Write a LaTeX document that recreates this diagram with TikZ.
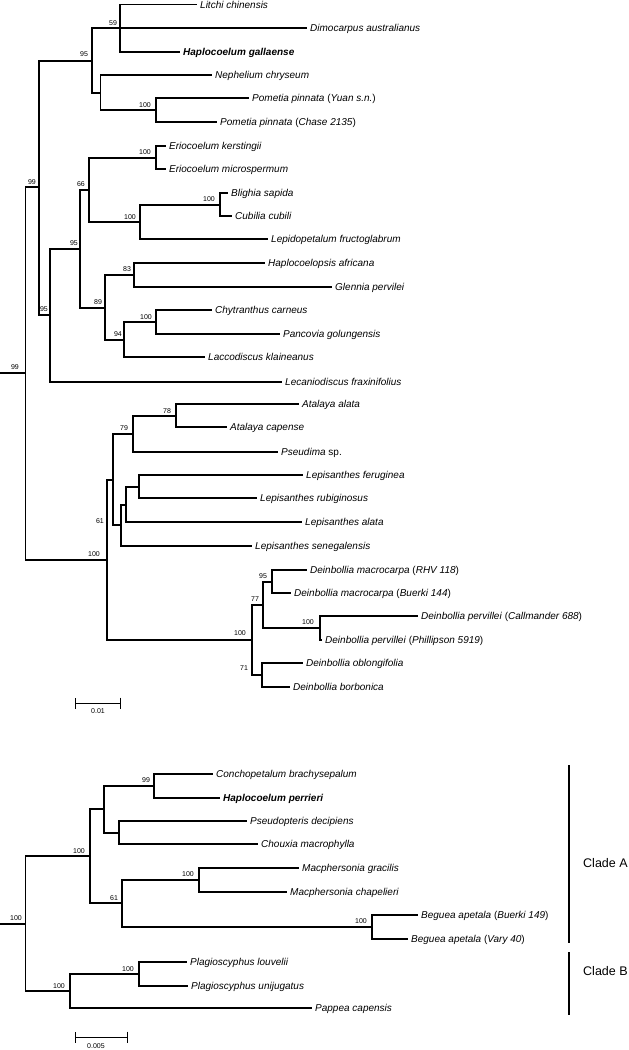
\documentclass[tikz,border=0pt]{standalone}
\usepackage{fontspec}
\setmainfont{Liberation Sans}
\usetikzlibrary{arrows.meta}
\begin{document}
\begin{tikzpicture}
  [x=1pt,y=-1pt,
  branch/.style={line width=1.4pt},
  taxon/.style={anchor=base west,xshift=3pt,yshift=-3.6pt,inner sep=0pt,font=\fontsize{10}{12}\selectfont},
  boot/.style={inner sep=0pt,font=\fontsize{7}{8}\selectfont},
  scalebar/.style={line width=0.9pt,{Bar[width=11pt]}-{Bar[width=11pt]}},
  cladebar/.style={line width=1.4pt},
  cladename/.style={anchor=west,inner sep=0pt,font=\fontsize{12.5}{15}\selectfont}]
  \useasboundingbox (0,0) rectangle (629,1050);

  %% internal nodes, upper tree
  \foreach \nodename/\x/\y in {r0/25.7/373, n99/39/187, n95a/92/61, n59/120/28,
    nx1/100.7/93, n100p/156/110, n95b/50/315, n95c/80/249, n66/89/190,
    n100e/156/158, n100l/140/222, n100b/220/205, n89/105/308, n83/134/275,
    n94/124/340, n100c/156/322, n100L/107/560, nx2/113/480, n79/133/434,
    n78/176/416, nx3/121/525, nx4/126/505, nx5/139/487, n100d/252/640,
    n77/263/605, n95d/272/582, n100v/320/628, n71/262/675}
  {
    \coordinate (\nodename) at (\x,\y);
  }
  %% internal nodes, lower tree
  \foreach \nodename/\x/\y in {br0/25.7/924, b100a/90/856, bnc/104/809,
    b99/154/786, bnd/119/833, b61/122/903, b100m/199/880, b100be/372/927,
    b100g/70/991, b100pl/139/974}
  {
    \coordinate (\nodename) at (\x,\y);
  }
  \coordinate (stemA) at (0,373);
  \coordinate (stemB) at (0,924);

  %% tips and taxon names
  \foreach \nodename/\x/\y/\name in {
    lit/197/4.5/{\textit{Litchi chinensis}},
    dim/307/28/{\textit{Dimocarpus australianus}},
    hga/180/52/{\textbf{\textit{Haplocoelum gallaense}}},
    nep/212/75/{\textit{Nephelium chryseum}},
    pya/249/98/{\textit{Pometia pinnata} (\textit{Yuan s.n.})},
    pch/217/122/{\textit{Pometia pinnata} (\textit{Chase 2135})},
    eke/166/146/{\textit{Eriocoelum kerstingii}},
    emi/166/169/{\textit{Eriocoelum microspermum}},
    bsa/228/193/{\textit{Blighia sapida}},
    ccu/232/216/{\textit{Cubilia cubili}},
    lfr/268/239/{\textit{Lepidopetalum fructoglabrum}},
    haf/265/263/{\textit{Haplocoelopsis africana}},
    gpe/332/287/{\textit{Glennia pervilei}},
    cca/212/310/{\textit{Chytranthus carneus}},
    pgo/280/334/{\textit{Pancovia golungensis}},
    lkl/205/357/{\textit{Laccodiscus klaineanus}},
    lec/282/382/{\textit{Lecaniodiscus fraxinifolius}},
    aal/299/404/{\textit{Atalaya alata}},
    aca/227/427/{\textit{Atalaya capense}},
    pse/278/452/{\textit{Pseudima} sp.},
    lfe/303/475/{\textit{Lepisanthes feruginea}},
    lru/257/498/{\textit{Lepisanthes rubiginosus}},
    lal/302/522/{\textit{Lepisanthes alata}},
    lse/252/546/{\textit{Lepisanthes senegalensis}},
    dmr/307/570/{\textit{Deinbollia macrocarpa} (\textit{RHV 118})},
    dmb/291/593/{\textit{Deinbollia macrocarpa} (\textit{Buerki 144})},
    dpc/418/616/{\textit{Deinbollia pervillei} (\textit{Callmander 688})},
    dpp/322/640/{\textit{Deinbollia pervillei} (\textit{Phillipson 5919})},
    dob/303/663/{\textit{Deinbollia oblongifolia}},
    dbo/290/687/{\textit{Deinbollia borbonica}},
    cbr/213/774/{\textit{Conchopetalum brachysepalum}},
    hpe/220/798/{\textbf{\textit{Haplocoelum perrieri}}},
    pde/247/821/{\textit{Pseudopteris decipiens}},
    cma/258/844/{\textit{Chouxia macrophylla}},
    mgr/299/868/{\textit{Macphersonia gracilis}},
    mch/287/892/{\textit{Macphersonia chapelieri}},
    bab/418/915/{\textit{Beguea apetala} (\textit{Buerki 149})},
    bav/408/939/{\textit{Beguea apetala} (\textit{Vary 40})},
    plo/187/962/{\textit{Plagioscyphus louvelii}},
    pun/188/986/{\textit{Plagioscyphus unijugatus}},
    pca/312/1008/{\textit{Pappea capensis}}}
  {
    \coordinate (\nodename) at (\x,\y);
    \node [taxon] (\nodename-l) at (\nodename) {\name};
  }

  %% branches
  \draw [branch] (stemA) -- (r0);
  \draw [branch] (stemB) -- (br0);
  \foreach \startnode/\endnode in {r0/n99, r0/n100L, n99/n95a, n99/n95b,
    n95a/n59, n95a/nx1, n59/lit, n59/dim, n59/hga, nx1/nep, nx1/n100p,
    n100p/pya, n100p/pch, n95b/n95c, n95b/lec, n95c/n66, n95c/n89,
    n66/n100e, n66/n100l, n100e/eke, n100e/emi, n100l/n100b, n100l/lfr,
    n100b/bsa, n100b/ccu, n89/n83, n89/n94, n83/haf, n83/gpe, n94/n100c,
    n94/lkl, n100c/cca, n100c/pgo, n100L/nx2, n100L/n100d, nx2/n79,
    nx2/nx3, n79/n78, n79/pse, n78/aal, n78/aca, nx3/nx4, nx3/lse,
    nx4/nx5, nx4/lal, nx5/lfe, nx5/lru, n100d/n77, n100d/n71, n77/n95d,
    n77/n100v, n95d/dmr, n95d/dmb, n100v/dpc, n100v/dpp, n71/dob, n71/dbo,
    br0/b100a, br0/b100g, b100a/bnc, b100a/b61, bnc/b99, bnc/bnd,
    b99/cbr, b99/hpe, bnd/pde, bnd/cma, b61/b100m, b61/b100be,
    b100m/mgr, b100m/mch, b100be/bab, b100be/bav, b100g/b100pl,
    b100g/pca, b100pl/plo, b100pl/pun}
  {
    \draw [branch] (\startnode) |- (\endnode);
  }

  %% bootstrap values
  \foreach \val/\x/\y [count=\i] in {59/113/23, 95/84/54, 100/145/105,
    100/145/152, 99/32/182, 66/81/184, 100/130/217, 100/209/199,
    95/74/243, 95/44/309, 89/98/302, 83/127/269, 94/118/334, 100/146/317,
    99/15/367, 78/167/411, 79/124/428, 61/100/521, 100/94/554,
    95/263/576, 77/255/599, 100/308/622, 100/240/633, 71/244/668,
    100/16/918, 100/79/851, 99/146/780, 61/114/898, 100/188/874,
    100/361/921, 100/59/986, 100/128/969}
  {
    \node [boot] (bs\i) at (\x,\y) {\val};
  }

  %% scale bars
  \coordinate (sa1) at (75,703);
  \coordinate (sa2) at (121,703);
  \draw [scalebar] (sa1) -- (sa2);
  \node [boot] (sal) at (98,711) {0.01};
  \coordinate (sb1) at (75,1037);
  \coordinate (sb2) at (128,1037);
  \draw [scalebar] (sb1) -- (sb2);
  \node [boot] (sbl) at (96,1046) {0.005};

  %% clades
  \coordinate (ca1) at (569,765);
  \coordinate (ca2) at (569,943);
  \coordinate (cb1) at (569,952);
  \coordinate (cb2) at (569,1015);
  \draw [cladebar] (ca1) -- (ca2);
  \draw [cladebar] (cb1) -- (cb2);
  \node [cladename] (cla) at (583,863) {Clade A};
  \node [cladename] (clb) at (583,971) {Clade B};
\end{tikzpicture}
\end{document}
